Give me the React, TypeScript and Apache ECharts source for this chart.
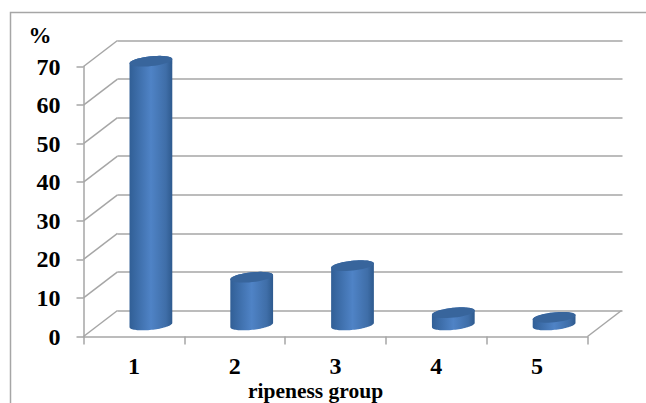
import React, { useEffect, useRef } from "react";
import * as echarts from "echarts";

const categories = ["1", "2", "3", "4", "5"];
const shares = [68, 12, 15, 2.8, 1.6];
const yTicks = [0, 10, 20, 30, 40, 50, 60, 70];

const DEPTH_X = 34;
const DEPTH_Y = -26;
const LINE = "#a6a6a6";
const FONT = "'Liberation Serif', serif";

function ellipsePoint(cx: number, cy: number, rx: number, ry: number, t: number) {
  const a = (-6 * Math.PI) / 180;
  const px = rx * Math.cos(t);
  const py = ry * Math.sin(t);
  return [cx + px * Math.cos(a) - py * Math.sin(a), cy + px * Math.sin(a) + py * Math.cos(a)];
}

function arc(cx: number, cy: number, rx: number, ry: number, from: number, to: number) {
  const pts: number[][] = [];
  const n = 40;
  for (let i = 0; i <= n; i++) pts.push(ellipsePoint(cx, cy, rx, ry, from + ((to - from) * i) / n));
  return pts;
}

function renderCylinder(_: any, api: any) {
  const top = api.coord([api.value(0), api.value(1)]);
  const base = api.coord([api.value(0), 0]);
  const cx = top[0] + DEPTH_X / 2;
  const ty = top[1] + DEPTH_Y / 2;
  const by = base[1] + DEPTH_Y / 2 + 1.5;
  const rx = 21.5;
  const ry = 4.9;
  const body = [...arc(cx, ty, rx, ry, Math.PI, 2 * Math.PI), ...arc(cx, by, rx, ry, 0, Math.PI)];
  return {
    type: "group",
    children: [
      {
        type: "polygon",
        shape: { points: body },
        style: {
          fill: new echarts.graphic.LinearGradient(0, 0, 1, 0, [
            { offset: 0, color: "#315f96" },
            { offset: 0.5, color: "#4f83c6" },
            { offset: 0.85, color: "#3f6ea8" },
            { offset: 1, color: "#2e5a8e" },
          ]),
        },
      },
      {
        type: "polygon",
        shape: { points: arc(cx, ty, rx, ry, 0, 2 * Math.PI) },
        style: { fill: "#38659c" },
      },
    ],
  };
}

function renderDiagonal(_: any, api: any) {
  const p = api.coord([api.value(0), api.value(1)]);
  const xEdge = api.value(2) ? p[0] + 50.4 : p[0] - 50.4;
  return {
    type: "line",
    shape: { x1: xEdge, y1: p[1], x2: xEdge + DEPTH_X, y2: p[1] + DEPTH_Y },
    style: { stroke: LINE, lineWidth: 1.5 },
  };
}

export default function App() {
  const ref = useRef<HTMLDivElement>(null);
  useEffect(() => {
    document.body.style.margin = "0";
    const chart = echarts.init(ref.current!, undefined, { renderer: "svg" });
    chart.setOption({
      animation: false,
      backgroundColor: "#ffffff",
      textStyle: { fontFamily: FONT },
      grid: [
        { left: 83.5, top: 66.5, width: 504, height: 270, outerBoundsMode: "none" },
        { left: 117.5, top: 40.5, width: 505, height: 270, outerBoundsMode: "none" },
      ],
      xAxis: [
        {
          type: "category",
          gridIndex: 0,
          data: categories,
          boundaryGap: true,
          axisLine: { lineStyle: { color: LINE, width: 1.5 } },
          axisTick: { show: true, length: 8, alignWithLabel: false, lineStyle: { color: LINE, width: 1.5 } },
          axisLabel: { color: "#000", fontSize: 24, fontWeight: "bold", fontFamily: FONT, margin: 17 },
          name: "ripeness group",
          nameLocation: "middle",
          nameMoveOverlap: false,
          nameGap: 43,
          nameTextStyle: { color: "#000", fontSize: 21.5, fontWeight: "bold", fontFamily: FONT, padding: [0, 40, 0, 0] },
        },
        {
          type: "category",
          gridIndex: 1,
          data: categories,
          axisLine: { show: false },
          axisTick: { show: false },
          axisLabel: { show: false },
        },
      ],
      yAxis: [
        {
          type: "value",
          gridIndex: 0,
          min: 0,
          max: 70,
          interval: 10,
          axisLine: { show: true, lineStyle: { color: LINE, width: 1.5 } },
          axisTick: { show: true, length: 7, lineStyle: { color: LINE, width: 1.5 } },
          axisLabel: { color: "#000", fontSize: 24, fontWeight: "bold", fontFamily: FONT, margin: 23 },
          splitLine: { show: false },
          name: "%",
          nameLocation: "end",
          nameGap: 20,
          nameTextStyle: { color: "#000", fontSize: 23, fontWeight: "bold", fontFamily: FONT, align: "right", padding: [0, 32, 0, 0] },
        },
        {
          type: "value",
          gridIndex: 1,
          min: 0,
          max: 70,
          interval: 10,
          axisLine: { show: false },
          axisTick: { show: false },
          axisLabel: { show: false },
          splitLine: { show: true, lineStyle: { color: LINE, width: 1.5 } },
        },
      ],
      graphic: [
        {
          type: "polyline",
          shape: { points: [[10.5, 403], [10.5, 12.5], [646, 12.5]] },
          style: { fill: "none", stroke: LINE, lineWidth: 1.5 },
          silent: true,
        },
      ],
      series: [
        {
          type: "custom",
          xAxisIndex: 0,
          yAxisIndex: 0,
          silent: true,
          z: 1,
          clip: false,
          renderItem: renderDiagonal,
          data: [...yTicks.map((v) => [categories[0], v, 0]), [categories[4], 0, 1]],
        },
        {
          type: "custom",
          xAxisIndex: 0,
          yAxisIndex: 0,
          silent: true,
          z: 3,
          clip: false,
          renderItem: renderCylinder,
          data: shares.map((v, i) => [categories[i], v]),
        },
      ],
    });
    return () => chart.dispose();
  }, []);
  return <div ref={ref} style={{ width: 646, height: 403 }} />;
}
